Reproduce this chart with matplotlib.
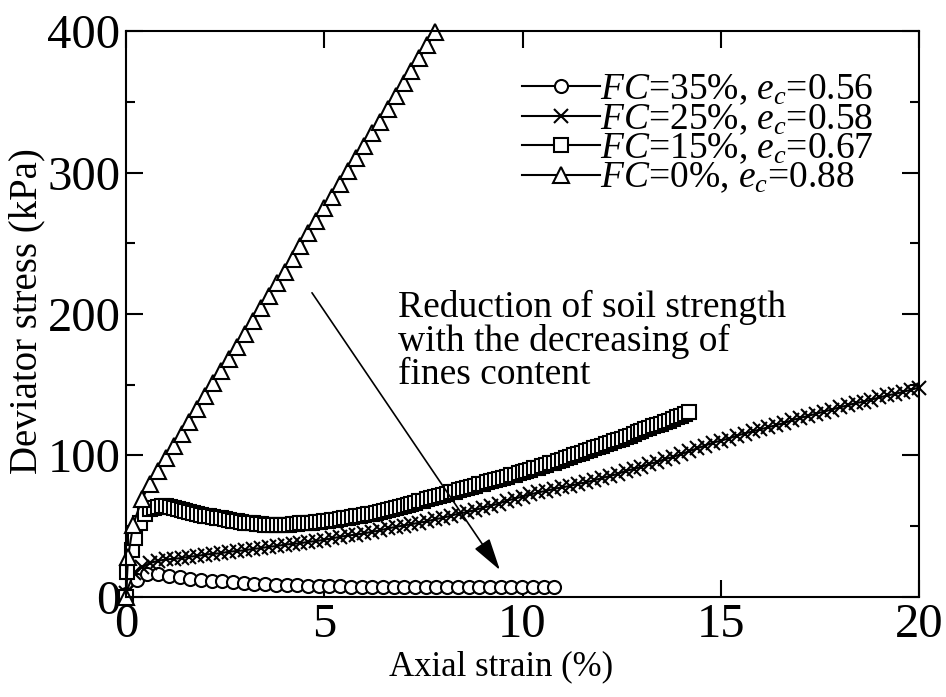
import matplotlib
matplotlib.use("Agg")
import matplotlib.pyplot as plt
from matplotlib.ticker import MultipleLocator

plt.rcParams["font.family"] = "Liberation Serif"
plt.rcParams["mathtext.fontset"] = "custom"
plt.rcParams["mathtext.rm"] = "Liberation Serif"
plt.rcParams["mathtext.it"] = "Liberation Serif:italic"

# FC = 35 %, e_c = 0.56 (circles)
fc35_x = [0, 0.27, 0.54, 0.81, 1.08, 1.35, 1.62, 1.89, 2.16, 2.43,
          2.7, 2.97, 3.24, 3.51, 3.78, 4.05, 4.32, 4.59, 4.86, 5.13,
          5.4, 5.67, 5.94, 6.21, 6.48, 6.75, 7.02, 7.29, 7.56, 7.83,
          8.1, 8.37, 8.64, 8.91, 9.18, 9.45, 9.72, 9.99, 10.26, 10.53,
          10.8]
fc35_y = [2, 12, 16, 16, 15, 14, 13, 12, 11.5, 11,
          10.5, 10, 9.5, 9, 8.7, 8.4, 8.2, 8, 7.8, 7.6,
          7.5, 7.4, 7.3, 7.2, 7.2, 7.1, 7.1, 7, 7, 7,
          7, 7, 7, 7, 7, 7, 7, 7, 7, 7,
          7]

# FC = 25 %, e_c = 0.58 (crosses)
fc25_x = [0, 0.2, 0.4, 0.6, 0.8, 1.0, 1.2, 1.4, 1.6, 1.8,
          2.0, 2.2, 2.4, 2.6, 2.8, 3.0, 3.2, 3.4, 3.6, 3.8,
          4.0, 4.2, 4.4, 4.6, 4.8, 5.0, 5.2, 5.4, 5.6, 5.8,
          6.0, 6.2, 6.4, 6.6, 6.8, 7.0, 7.2, 7.4, 7.6, 7.8,
          8.0, 8.2, 8.4, 8.6, 8.8, 9.0, 9.2, 9.4, 9.6, 9.8,
          10.0, 10.2, 10.4, 10.6, 10.8, 11.0, 11.2, 11.4, 11.6, 11.8,
          12.0, 12.2, 12.4, 12.6, 12.8, 13.0, 13.2, 13.4, 13.6, 13.8,
          14.0, 14.2, 14.4, 14.6, 14.8, 15.0, 15.2, 15.4, 15.6, 15.8,
          16.0, 16.2, 16.4, 16.6, 16.8, 17.0, 17.2, 17.4, 17.6, 17.8,
          18.0, 18.2, 18.4, 18.6, 18.8, 19.0, 19.2, 19.4, 19.6, 19.8,
          20.0]
fc25_y = [3, 17, 21, 24, 25.5, 26.5, 27, 27.5, 28.5, 29,
          30, 30.5, 31, 32, 32.5, 33, 34, 34.5, 35.5, 36,
          37, 37.5, 38, 39, 39.5, 40.5, 41.5, 42.5, 43.5, 44,
          45, 46, 47, 48.5, 49.5, 50.5, 51.5, 52.5, 53.5, 55,
          56, 57.5, 59, 60, 61.5, 63, 64.5, 66, 68, 69.5,
          71, 72.5, 74, 75, 76.5, 77.5, 78.5, 80, 81, 82.5,
          84, 85.5, 87, 89, 90.5, 92, 94, 95.5, 97.5, 99,
          101, 103, 105, 107, 109, 110.5, 112, 114, 115.5, 117,
          118.5, 120, 121.5, 123, 125, 126.5, 128, 129.5, 131, 132.5,
          134, 135.5, 137, 138, 139.5, 141, 142.5, 143.5, 145, 146.5,
          148]

# FC = 15 %, e_c = 0.67 (squares)
fc15_x = [0, 0.02, 0.14, 0.23, 0.35, 0.48,
          0.6, 0.7, 0.8, 0.9, 1.0, 1.1, 1.2, 1.3, 1.4, 1.5,
          1.6, 1.7, 1.8, 1.9, 2.0, 2.1, 2.2, 2.3, 2.4, 2.5,
          2.6, 2.7, 2.8, 2.9, 3.0, 3.1, 3.2, 3.3, 3.4, 3.5,
          3.6, 3.7, 3.8, 3.9, 4.0, 4.1, 4.2, 4.3, 4.4, 4.5,
          4.6, 4.7, 4.8, 4.9, 5.0, 5.1, 5.2, 5.3, 5.4, 5.5,
          5.6, 5.7, 5.8, 5.9, 6.0, 6.1, 6.2, 6.3, 6.4, 6.5,
          6.6, 6.7, 6.8, 6.9, 7.0, 7.1, 7.2, 7.3, 7.4, 7.5,
          7.6, 7.7, 7.8, 7.9, 8.0, 8.1, 8.2, 8.3, 8.4, 8.5,
          8.6, 8.7, 8.8, 8.9, 9.0, 9.1, 9.2, 9.3, 9.4, 9.5,
          9.6, 9.7, 9.8, 9.9, 10.0, 10.1, 10.2, 10.3, 10.4, 10.5,
          10.6, 10.7, 10.8, 10.9, 11.0, 11.1, 11.2, 11.3, 11.4, 11.5,
          11.6, 11.7, 11.8, 11.9, 12.0, 12.1, 12.2, 12.3, 12.4, 12.5,
          12.6, 12.7, 12.8, 12.9, 13.0, 13.1, 13.2, 13.3, 13.4, 13.5,
          13.6, 13.7, 13.8, 13.9, 14.0, 14.1, 14.2]
fc15_y = [0, 18, 33, 42, 52, 59,
          62, 63, 63.5, 64, 64, 63.5, 63, 62.5, 61.5, 61,
          60, 59.5, 58.5, 58, 57.5, 57, 56.5, 56, 55.5, 55,
          54.5, 54, 53.5, 53, 52.5, 52, 52, 51.5, 51.5, 51,
          51, 51, 51, 51, 51, 51, 51.5, 51.5, 52, 52,
          52.5, 52.5, 53, 53, 53.5, 54, 54.5, 54.5, 55, 55.5,
          56, 56.5, 57, 57.5, 58, 58.5, 59, 59.5, 60, 61,
          61.5, 62, 63, 63.5, 64.5, 65, 66, 66.5, 67.5, 68,
          69, 70, 70.5, 71.5, 72, 73, 74, 74.5, 75.5, 76,
          77, 78, 78.5, 79.5, 80, 81, 82, 82.5, 83.5, 84,
          85, 86, 86.5, 87.5, 88, 89, 90, 91, 91.5, 92.5,
          93.5, 94.5, 95, 96, 97, 98, 99, 100, 101, 102,
          103, 104, 105, 106, 107, 108, 109, 110, 111, 112,
          113, 114, 115.5, 116.5, 117.5, 118.5, 119.5, 120.5, 121.5, 122.5,
          123.5, 124.5, 125.5, 127, 128, 129.5, 131]

# FC = 0 %, e_c = 0.88 (triangles)
fc0_x = [0, 0.05, 0.18, 0.4, 0.6, 0.8, 1.0, 1.2, 1.4, 1.6,
         1.8, 2.0, 2.2, 2.4, 2.6, 2.8, 3.0, 3.2, 3.4, 3.6,
         3.8, 4.0, 4.2, 4.4, 4.6, 4.8, 5.0, 5.2, 5.4, 5.6,
         5.8, 6.0, 6.2, 6.4, 6.6, 6.8, 7.0, 7.2, 7.4, 7.6,
         7.8]
fc0_y = [0, 28, 51, 69, 80, 89, 98, 107, 115, 124,
         133, 142, 151, 160, 168, 177, 186, 195, 204, 213,
         222, 230, 239, 248, 257, 266, 275, 283, 292, 301,
         310, 319, 328, 336, 345, 354, 363, 372, 381, 390,
         399]

labels = ["$FC$=35%, $e_c$=0.56", "$FC$=25%, $e_c$=0.58",
          "$FC$=15%, $e_c$=0.67", "$FC$=0%, $e_c$=0.88"]

fig = plt.figure(figsize=(9.46, 6.97), dpi=100)
ax = fig.add_axes([0.1332, 0.1435, 0.8383, 0.812])

series = [(fc35_x, fc35_y, "o", 9.4),
          (fc25_x, fc25_y, "x", 10.5),
          (fc15_x, fc15_y, "s", 9.5),
          (fc0_x, fc0_y, "^", 11.5)]
handles = []
for (xs, ys, m, ms), lab in zip(series, labels):
    ln, = ax.plot(xs, ys, color="black", lw=1.5, marker=m, markersize=ms,
                  markerfacecolor="white", markeredgecolor="black",
                  markeredgewidth=1.5, clip_on=False, label=lab)
    handles.append(ln)

ax.set_xlim(0, 20)
ax.set_ylim(0, 400)
ax.xaxis.set_major_locator(MultipleLocator(5))
ax.yaxis.set_major_locator(MultipleLocator(100))
ax.yaxis.set_minor_locator(MultipleLocator(50))
ax.tick_params(which="both", direction="in", top=True, right=True,
               width=1.5, labelsize=35, pad=4)
ax.tick_params(which="major", length=12)
ax.tick_params(which="minor", length=6.5)
for sp in ax.spines.values():
    sp.set_linewidth(1.5)

ax.set_xlabel("Axial strain (%)", fontsize=25)
ax.set_ylabel("Deviator stress (kPa)", fontsize=28)
ax.xaxis.set_label_coords(0.473, -0.094)
ax.yaxis.set_label_coords(-0.102, 0.505)

leg = ax.legend(handles=handles, loc="upper left",
                bbox_to_anchor=(0.499, 0.926), frameon=False, fontsize=27,
                handlelength=2.1, handletextpad=0.0, labelspacing=-0.14,
                borderaxespad=0, borderpad=0, markerscale=1.0)

ax.text(6.86, 217, "Reduction of soil strength\nwith the decreasing of\nfines content",
        fontsize=27, va="top", ha="left", linespacing=0.95)
ax.annotate("", xy=(9.43, 19), xytext=(4.69, 215),
            arrowprops=dict(arrowstyle="-|>,head_length=1.0,head_width=0.28",
                            color="black", lw=1.2, mutation_scale=20,
                            shrinkA=0, shrinkB=0))

fig.savefig("out.png", dpi=100)
